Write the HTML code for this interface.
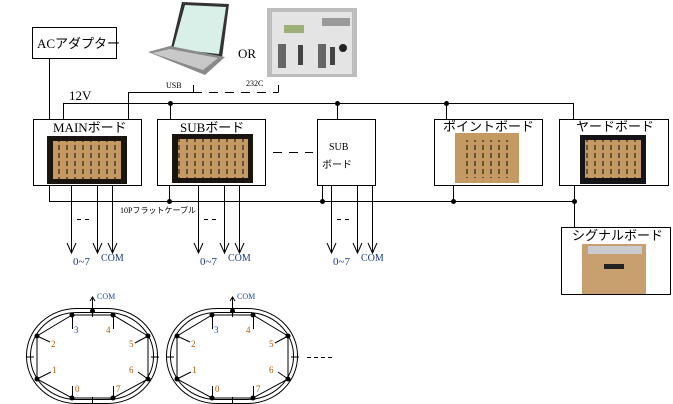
<!DOCTYPE html>
<html><head><meta charset="utf-8"><style>
html,body{margin:0;padding:0;background:#fff;width:673px;height:404px;overflow:hidden}
svg{display:block}
text{font-family:"Liberation Serif","Noto Serif CJK SC",serif}
.j{font-family:"Liberation Sans","Noto Sans CJK JP",sans-serif}
</style></head><body>
<svg width="673" height="404" viewBox="0 0 673 404" xmlns="http://www.w3.org/2000/svg">
<defs>
<pattern id="pcb" width="8" height="8" patternUnits="userSpaceOnUse">
<rect width="8" height="8" fill="#c49a62"/><rect x="2" y="1" width="2" height="5" fill="#6b5038"/>
</pattern>
</defs>
<g fill="none" stroke="#000" stroke-width="1">
<rect x="32.5" y="27.5" width="84" height="31" fill="#fff"/>
<line x1="49.5" y1="58" x2="49.5" y2="119"/>
<polyline points="193.5,85 193.5,92.5 128.5,92.5 128.5,119"/>
<line x1="193" y1="92.5" x2="278" y2="92.5" stroke-dasharray="9,7"/>
<line x1="278.5" y1="85" x2="278.5" y2="92.5"/>
<polyline points="63.5,119 63.5,103.5 573.5,103.5 573.5,119"/>
<line x1="170.5" y1="103" x2="170.5" y2="119"/>
<line x1="337.5" y1="103" x2="337.5" y2="119"/>
<line x1="446.5" y1="103" x2="446.5" y2="119"/>
<rect x="33.5" y="119.5" width="108" height="66" fill="#fff"/>
<rect x="157.5" y="119.5" width="108" height="66" fill="#fff"/>
<rect x="317.5" y="119.5" width="58" height="66" fill="#fff"/>
<rect x="434.5" y="119.5" width="108" height="66" fill="#fff"/>
<rect x="559.5" y="119.5" width="109" height="66" fill="#fff"/>
<rect x="561.5" y="227.5" width="109" height="67" fill="#fff"/>
<line x1="273" y1="152.5" x2="313" y2="152.5" stroke-dasharray="9,7"/>
<polyline points="49.5,185 49.5,201.5 574.5,201.5"/>
<line x1="169.5" y1="185" x2="169.5" y2="201"/>
<line x1="322.5" y1="185" x2="322.5" y2="201"/>
<line x1="453.5" y1="185" x2="453.5" y2="201"/>
<line x1="574.5" y1="185" x2="574.5" y2="227"/>
<g id="outs">
<line x1="71.5" y1="185" x2="71.5" y2="253"/><line x1="97.5" y1="185" x2="97.5" y2="253"/><line x1="112.5" y1="185" x2="112.5" y2="253"/>
<polyline points="67,243 71.5,253 76,243"/><polyline points="93,243 97.5,253 102,243"/><polyline points="108,243 112.5,253 117,243"/>
<line x1="77" y1="219.5" x2="81" y2="219.5"/><line x1="85" y1="219.5" x2="89" y2="219.5"/>
</g>
<use href="#outs" x="127"/>
<use href="#outs" x="260"/>
<g id="trk">
<rect x="26.5" y="308.5" width="131" height="95" rx="50" ry="47"/>
<rect x="30.5" y="312.5" width="123" height="87" rx="46" ry="43"/>
<polygon points="72,315 113,315 148,336 148,379 113,398 72,398 37,379 37,336"/>
<line x1="92.5" y1="311" x2="92.5" y2="298"/><polyline points="90,301 92.5,297 95,301"/>
<line x1="72.5" y1="315" x2="72.5" y2="329"/><line x1="113.5" y1="315" x2="113.5" y2="329"/>
<line x1="37" y1="336" x2="50" y2="342"/><line x1="148" y1="336" x2="135" y2="343"/>
<line x1="37" y1="379" x2="51" y2="372"/><line x1="148" y1="379" x2="138" y2="372"/>
<line x1="72.5" y1="398" x2="72.5" y2="386"/><line x1="113.5" y1="398" x2="113.5" y2="386"/>
<line x1="26" y1="357" x2="34" y2="357"/><line x1="151" y1="357" x2="159" y2="357"/>
<line x1="92.5" y1="309" x2="92.5" y2="317"/><line x1="92.5" y1="397" x2="92.5" y2="404"/>
<g fill="#000" stroke="none">
<circle cx="92.5" cy="311" r="2.5"/><circle cx="72" cy="315" r="2.5"/><circle cx="113" cy="315" r="2.5"/>
<circle cx="37" cy="336" r="2.5"/><circle cx="148" cy="336" r="2.5"/><circle cx="37" cy="379" r="2.5"/>
<circle cx="148" cy="379" r="2.5"/><circle cx="72" cy="398" r="2.5"/><circle cx="113" cy="398" r="2.5"/>
</g>
<g stroke="none" font-size="9">
<text x="97" y="299" fill="#1a4aa0" font-size="8">COM</text>
<text x="74" y="333" fill="#1a4aa0">3</text><text x="106" y="333" fill="#b05a00">4</text>
<text x="51" y="347" fill="#b05a00">2</text><text x="129" y="347" fill="#b05a00">5</text>
<text x="52" y="373" fill="#b05a00">1</text><text x="129" y="373" fill="#b05a00">6</text>
<text x="75" y="392" fill="#b05a00">0</text><text x="116" y="392" fill="#b05a00">7</text>
</g>
</g>
<use href="#trk" x="140"/>
<line x1="307" y1="357.5" x2="335" y2="357.5" stroke-dasharray="4,3"/>
</g>
<g fill="#000">
<circle cx="170.5" cy="103.5" r="2.5"/><circle cx="337.5" cy="103.5" r="2.5"/><circle cx="446.5" cy="103.5" r="2.5"/>
<circle cx="169.5" cy="201.5" r="2.5"/><circle cx="322.5" cy="201.5" r="2.5"/><circle cx="453.5" cy="201.5" r="2.5"/><circle cx="574.5" cy="201.5" r="2.5"/>
</g>
<rect x="47" y="136" width="80" height="48" fill="#1a1410"/><rect x="53" y="141" width="68" height="38" fill="url(#pcb)"/>
<rect x="172" y="134" width="81" height="49" fill="#1a1410"/><rect x="178" y="139" width="70" height="39" fill="url(#pcb)"/>
<rect x="455" y="133" width="64" height="50" fill="#c49a62"/><rect x="460" y="140" width="54" height="38" fill="url(#pcb)"/>
<rect x="580" y="135" width="66" height="49" fill="#141418"/><rect x="585" y="140" width="56" height="38" fill="url(#pcb)"/>
<rect x="582" y="244" width="64" height="50" fill="#c8a070"/><rect x="588" y="246" width="54" height="8" fill="#c8ccd0"/>
<rect x="604" y="264" width="20" height="5" fill="#222"/>
<polygon points="182,2 229,4 222,58 170,52" fill="#333"/>
<polygon points="185,5 226,7 219,54 173,49" fill="#d8f0e8"/>
<polygon points="148,52 170,46 225,57 205,75" fill="#8a8a8a"/>
<polygon points="152,53 170,49 218,58 203,70" fill="#c8c8c8"/>
<rect x="267" y="8" width="90" height="69" fill="#bdbdbd"/>
<rect x="272" y="12" width="80" height="62" fill="#e4e4e4"/>
<rect x="284" y="25" width="20" height="8" fill="#9db07a"/>
<rect x="322" y="18" width="28" height="8" fill="#999"/>
<rect x="278" y="44" width="8" height="24" fill="#666"/><rect x="298" y="45" width="5" height="20" fill="#444"/>
<rect x="318" y="44" width="8" height="24" fill="#666"/><rect x="330" y="47" width="5" height="18" fill="#444"/>
<circle cx="343" cy="48" r="4" fill="#222"/>
<g font-size="13">
<text x="37" y="48" style="font-family:'Liberation Serif','Noto Sans CJK JP',serif">ACアダプター</text>
<text x="238" y="58">OR</text>
<text x="69" y="100">12V</text>
<text x="53" y="132" style="font-family:'Liberation Serif','Noto Sans CJK JP',serif">MAINボード</text>
<text x="180" y="132" style="font-family:'Liberation Serif','Noto Sans CJK JP',serif">SUBボード</text>
<text x="443" y="131" class="j">ポイントボード</text>
<text x="576" y="131" class="j">ヤードボード</text>
<text x="572" y="240" class="j">シグナルボード</text>
</g>
<text x="329" y="150" font-size="10">SUB</text>
<text x="322" y="168" font-size="10" class="j">ボード</text>
<text x="166" y="88" font-size="8">USB</text>
<text x="246" y="86" font-size="8">232C</text>
<text x="120" y="213" font-size="8" style="font-family:'Liberation Serif','Noto Sans CJK JP',serif">10Pフラットケーブル</text>
<g font-size="11" fill="#1a3a80">
<text x="73" y="265">0~7</text><text x="101" y="261" font-size="10">COM</text>
<text x="200" y="265">0~7</text><text x="228" y="261" font-size="10">COM</text>
<text x="333" y="265">0~7</text><text x="361" y="261" font-size="10">COM</text>
</g>
</svg>
</body></html>
